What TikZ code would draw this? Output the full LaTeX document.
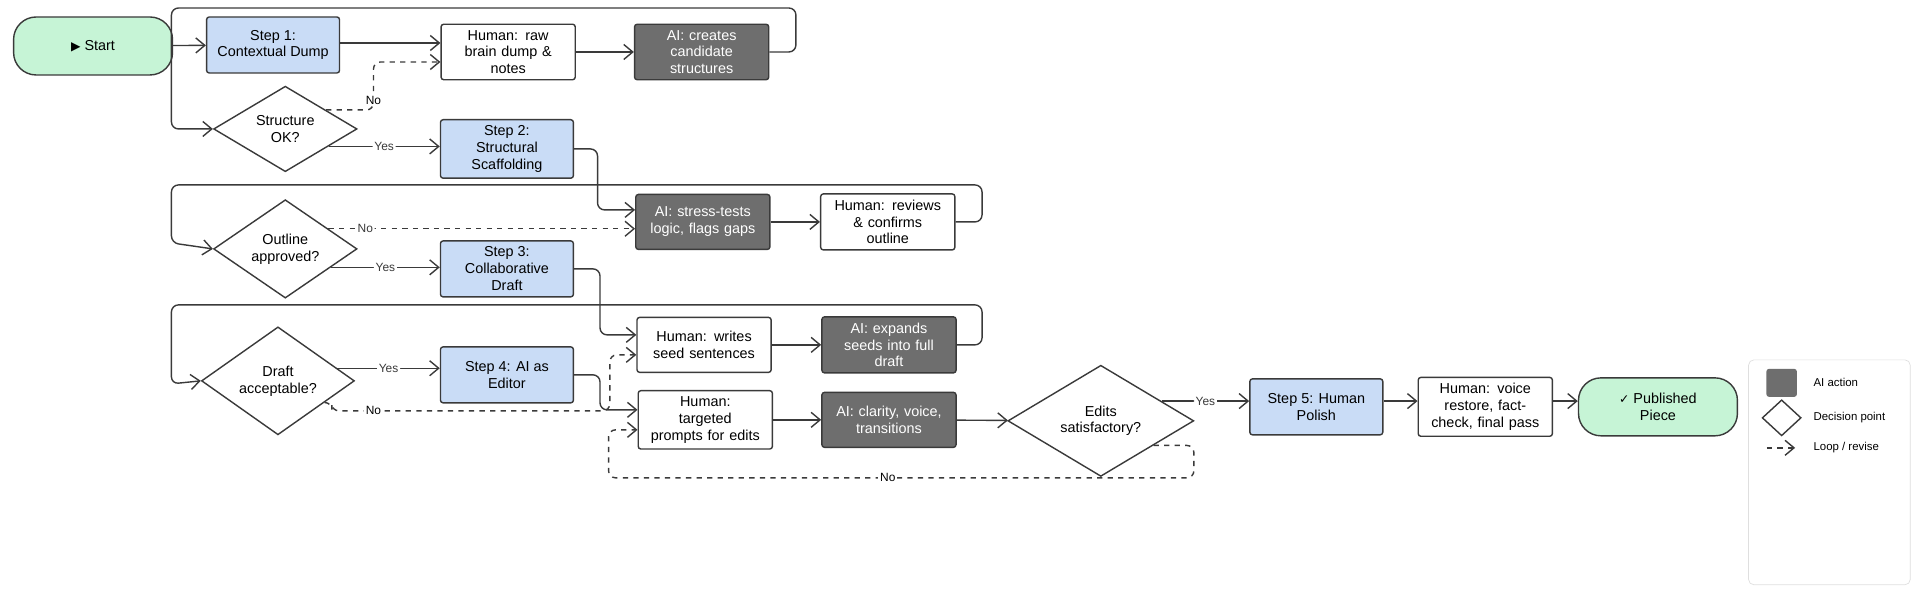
\documentclass[tikz,border=0pt]{standalone}
\usepackage{fontspec}
\setmainfont{Liberation Sans}
\newfontfamily\symfont{DejaVu Sans}
\usetikzlibrary{shapes.geometric, arrows.meta, positioning}

\definecolor{stepblue}{HTML}{C9DCF6}
\definecolor{aigray}{HTML}{6E6E6E}
\definecolor{startgreen}{HTML}{C6F4D6}
\definecolor{edgegray}{HTML}{3A3A3A}

\begin{document}
\begin{tikzpicture}[
    x=0.245mm, y=-0.2mm,
    font=\fontsize{8.2}{9.6}\selectfont,
    stepbox/.style={rectangle, draw=edgegray, fill=stepblue, thick, minimum width=26.6mm, minimum height=11.2mm, text centered, rounded corners=1.5pt, align=center},
    human/.style={rectangle, draw=edgegray, fill=white, thick, minimum width=26.6mm, minimum height=11mm, text width=24.5mm, text centered, rounded corners=1.5pt, align=center},
    ai/.style={rectangle, draw=edgegray, fill=aigray, text=white, thick, minimum width=26.6mm, minimum height=11mm, text width=24.5mm, text centered, rounded corners=1.5pt, align=center},
    term/.style={rectangle, draw=edgegray, fill=startgreen, thick, minimum width=31.8mm, minimum height=11.6mm, text centered, rounded corners=4.5mm, align=center},
    decide/.style={diamond, draw=edgegray, fill=white, thick, inner sep=0pt, text centered, align=center},
    arrow/.style={-{Straight Barb[length=1.8mm, width=3mm]}, thick, color=edgegray, rounded corners=4pt},
    revise/.style={arrow, dashed},
    lbl/.style={fill=white, inner sep=1pt, font=\fontsize{6.8}{7}\selectfont}
]
\useasboundingbox (0,0) rectangle (1568,601);

% Row 1
\node[term] (start) at (76,46) {{\symfont\scriptsize ▶} Start};
\node[stepbox] (s1) at (223,45) {Step 1:\\ Contextual Dump};
\node[human] (dump) at (415,52) {Human: raw\\ brain dump \&\\ notes};
\node[ai] (cands) at (573,52) {AI: creates\\ candidate\\ structures};
\node[decide, minimum width=28.7mm, minimum height=15mm] (sok) at (233,129) {Structure\\ OK?};
\node[stepbox] (s2) at (414,149) {Step 2:\\ Structural\\ Scaffolding};

% Row 2
\node[decide, minimum width=28.7mm, minimum height=15.6mm] (ook) at (233,249) {Outline\\ approved?};
\node[ai] (stress) at (574,222) {AI: stress-tests\\ logic, flags gaps};
\node[human] (review) at (725,222) {Human: reviews\\ \& confirms\\ outline};
\node[stepbox] (s3) at (414,269) {Step 3:\\ Collaborative\\ Draft};

% Row 3
\node[decide, minimum width=30.6mm, minimum height=21mm] (dok) at (227,381) {Draft\\ acceptable?};
\node[stepbox] (s4) at (414,375) {Step 4: AI as\\ Editor};
\node[human] (seed) at (575,345) {Human: writes\\ seed sentences};
\node[ai] (expand) at (726,345) {AI: expands\\ seeds into full\\ draft};
\node[human] (prompt) at (576,420) {Human:\\ targeted\\ prompts for edits};
\node[ai] (clarity) at (726,420) {AI: clarity, voice,\\ transitions};
\node[decide, minimum width=37.2mm, minimum height=16.4mm] (eok) at (899,421) {Edits\\ satisfactory?};
\node[stepbox] (s5) at (1075,407) {Step 5: Human\\ Polish};
\node[human] (voice) at (1213,407) {Human: voice\\ restore, fact-\\ check, final pass};
\node[term] (pub) at (1354,407) {{\symfont\scriptsize ✓} Published\\ Piece};

% Legend
\draw[draw=gray!25, fill=white, rounded corners=3pt] (1428,360) rectangle (1560,585);
\node[rectangle, fill=aigray, rounded corners=1.5pt, minimum width=6.1mm, minimum height=5.6mm] (lgai) at (1455,383) {};
\node[diamond, draw=edgegray, thick, minimum width=7.8mm, minimum height=7.2mm, inner sep=0pt] (lgdec) at (1455,418) {};
\coordinate (lga) at (1443,448);
\coordinate (lgb) at (1466,448);
\draw[revise] (lga) -- (lgb);
\node[right, font=\fontsize{6.5}{7}\selectfont] at (1476,383) {AI action};
\node[right, font=\fontsize{6.5}{7}\selectfont] at (1476,418) {Decision point};
\node[right, font=\fontsize{6.5}{7}\selectfont] at (1476,448) {Loop / revise};

% Main flow
\draw[arrow] (start) -- (s1);
\draw[arrow] (s1.east |- 0,43) -- (dump.west |- 0,43);
\draw[arrow] (dump) -- (cands);
\draw[arrow] (cands.east) -| (650,8) -| (140,129) -- (sok.west);
\draw[revise] (sok.25) -| (305,62) -- (dump.west |- 0,62);
\node[lbl] at (305,100) {No};
\draw[arrow] (sok.-22) -- (s2.west |- sok.-22) node[lbl, midway] {Yes};
\draw[arrow] (s2.east) -| (488,210) -- (stress.west |- 0,210);
\draw[arrow] (stress) -- (review);
\draw[arrow] (review.east) -| (802,185) -| (140,243) -- (ook.west);
\draw[revise] (ook.25) -- (stress.west |- ook.25) node[lbl, pos=0.12] {No};
\draw[arrow] (ook.-22) -- (s3.west |- ook.-22) node[lbl, midway] {Yes};
\draw[arrow] (s3.east) -| (490,335) -- (seed.west |- 0,335);
\draw[arrow] (seed) -- (expand);
\draw[arrow] (expand.east) -| (802,305) -| (140,384) -- (dok.west);
\draw[arrow] (dok.12) -- (s4.west |- dok.12) node[lbl, midway] {Yes};
\draw[revise] (dok.-25) -- ++(6,0) |- (498,411) |- (seed.west |- 0,355);
\node[lbl] at (305,411) {No};
\draw[arrow] (s4.east) -| (490,410) -- (prompt.west |- 0,410);
\draw[arrow] (prompt) -- (clarity);
\draw[arrow] (clarity) -- (eok);
\draw[arrow] (eok.18) -- (s5.west |- eok.18) node[lbl, midway] {Yes};
\draw[revise] (eok.-25) -| (975,478) -- (497,478) |- (prompt.west |- 0,430);
\node[lbl] at (725,478) {No};
\draw[arrow] (s5.east |- eok.18) -- (voice.west |- eok.18);
\draw[arrow] (voice.east |- eok.18) -- (pub.west |- eok.18);

\end{tikzpicture}
\end{document}
